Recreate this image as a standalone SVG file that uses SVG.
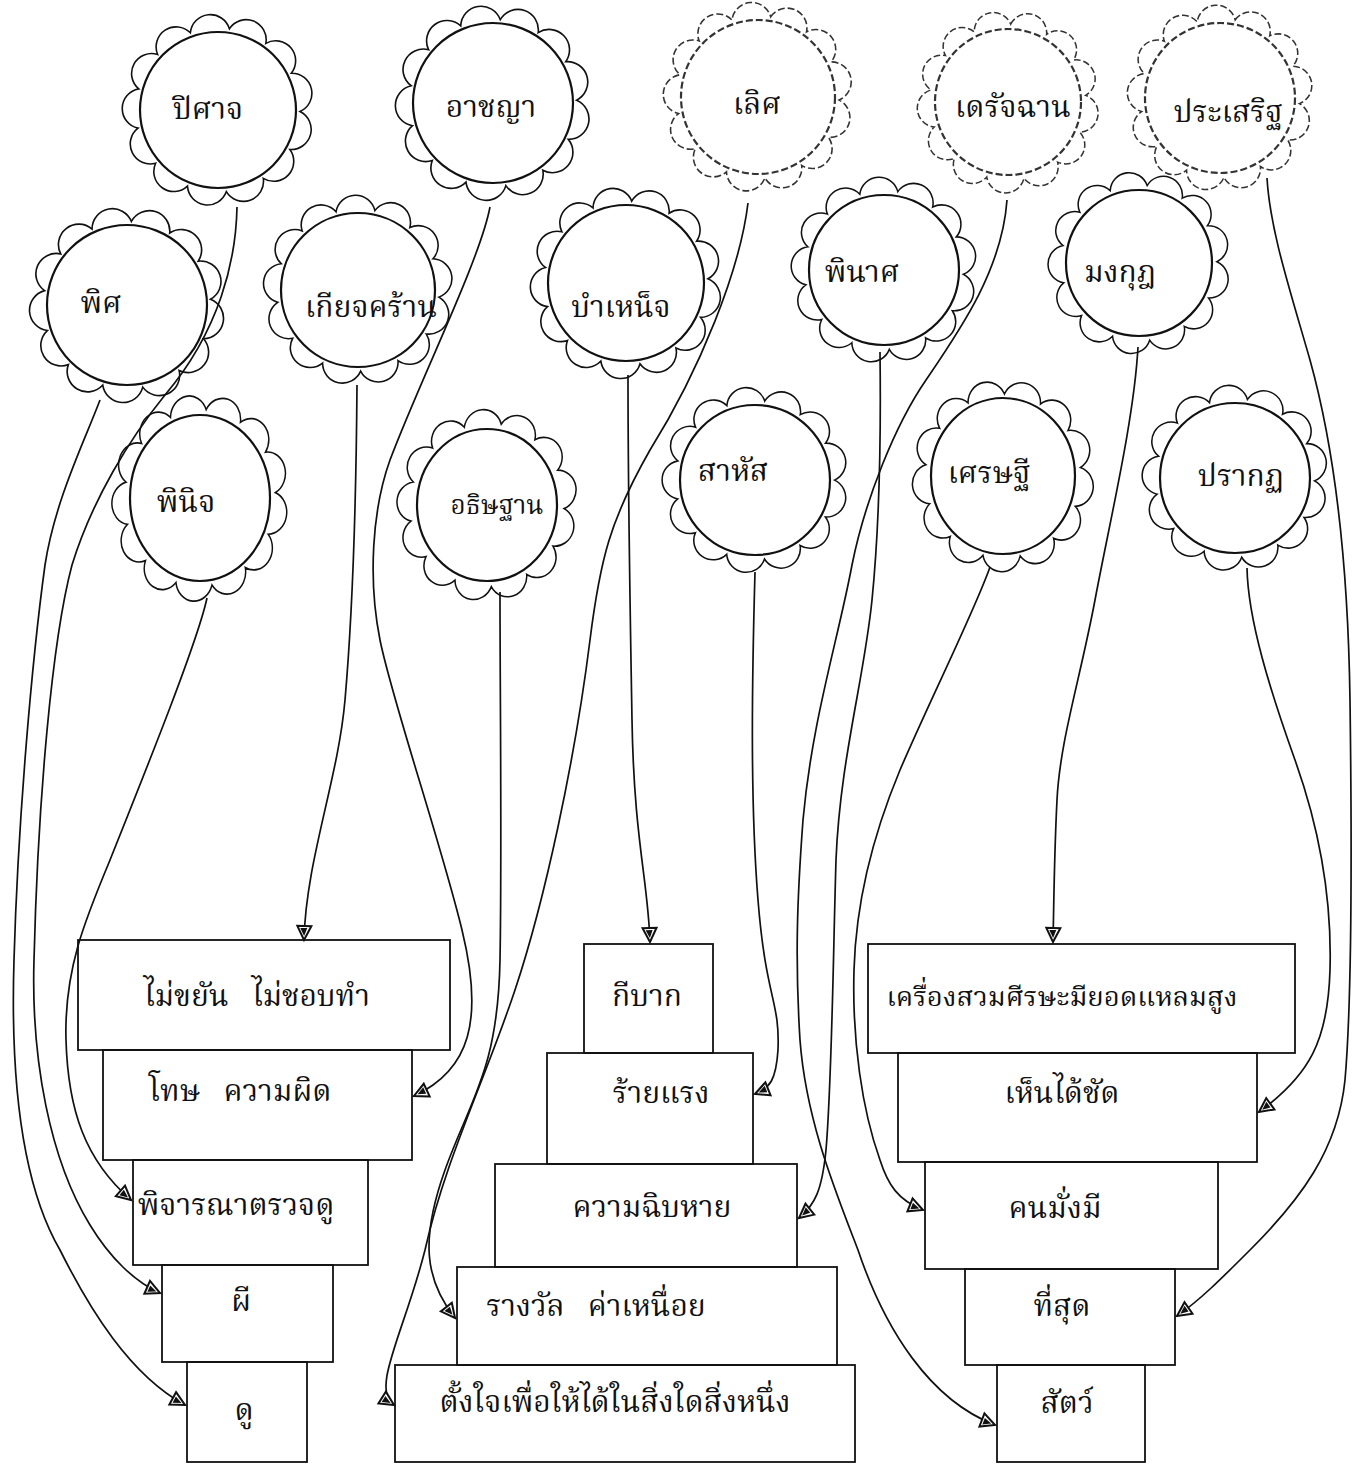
<svg xmlns="http://www.w3.org/2000/svg" xmlns:xlink="http://www.w3.org/1999/xlink" width="1361" height="1467" viewBox="0 0 1361 1467">
<style>
.bg{fill:#fff}
.ring{fill:none;stroke:#111;stroke-width:1.6}
.inner{fill:none;stroke:#111;stroke-width:2.2}
.faint .ring,.faint .inner{stroke:#333;stroke-dasharray:7 3}
.lbl{font-family:"Noto Serif Thai","Noto Sans Thai","Norasi","Loma","Garuda","Tlwg Typo","DejaVu Sans",sans-serif;font-size:30px;fill:#111;text-anchor:middle}
.box{fill:none;stroke:#111;stroke-width:1.8}
.conn path{fill:none;stroke:#111;stroke-width:1.7;marker-end:url(#ah)}
</style>
<defs>
<path id="ring" d="M0,-82 A20,20 0 0 1 38.11,-72.61 A20,20 0 0 1 67.49,-46.58 A20,20 0 0 1 81.4,-9.88 A20,20 0 0 1 76.67,29.08 A20,20 0 0 1 54.37,61.38 A20,20 0 0 1 19.62,79.61 A20,20 0 0 1 -19.62,79.61 A20,20 0 0 1 -54.37,61.38 A20,20 0 0 1 -76.67,29.08 A20,20 0 0 1 -81.4,-9.88 A20,20 0 0 1 -67.49,-46.58 A20,20 0 0 1 -38.11,-72.61 A20,20 0 0 1 0,-82 Z"/>
<marker id="ah" markerUnits="userSpaceOnUse" markerWidth="20" markerHeight="20" viewBox="0 0 20 20" refX="17" refY="10" orient="auto">
<path d="M3,3 L17,10 L3,17 Z" fill="#fff" stroke="#111" stroke-width="2"/>
<path d="M5,7 L13,10 L5,14 Z" fill="#111"/>
</marker>
</defs>
<rect class="bg" x="0" y="0" width="1361" height="1467"/>

<!-- flowers -->
<g id="n-pisat"><use href="#ring" class="ring" transform="translate(218,110) rotate(8)"/><circle class="inner" cx="218" cy="110" r="78"/><text class="lbl" x="208" y="119">ปิศาจ</text></g>
<g id="n-phit"><use href="#ring" class="ring" transform="translate(127,305) rotate(3) scale(1.02)"/><circle class="inner" cx="127" cy="305" r="80"/><text class="lbl" x="101" y="313">พิศ</text></g>
<g id="n-kiatkhran"><use href="#ring" class="ring" transform="translate(358,290) rotate(12) scale(0.99)"/><circle class="inner" cx="358" cy="290" r="77"/><text class="lbl" x="371" y="317">เกียจคร้าน</text></g>
<g id="n-atchaya"><use href="#ring" class="ring" transform="translate(493,103) rotate(5) scale(1.02)"/><circle class="inner" cx="493" cy="103" r="80"/><text class="lbl" x="491" y="117">อาชญา</text></g>
<g id="n-loet" class="faint"><use href="#ring" class="ring" transform="translate(758,97) rotate(9) scale(0.99)"/><circle class="inner" cx="758" cy="97" r="77"/><text class="lbl" x="757" y="114">เลิศ</text></g>
<g id="n-bamnet"><use href="#ring" class="ring" transform="translate(626,283) rotate(4)"/><circle class="inner" cx="626" cy="283" r="78"/><text class="lbl" x="621" y="317">บำเหน็จ</text></g>
<g id="n-phinat"><use href="#ring" class="ring" transform="translate(884,270) rotate(10) scale(0.97)"/><circle class="inner" cx="884" cy="270" r="75"/><text class="lbl" x="862" y="282">พินาศ</text></g>
<g id="n-deratchan" class="faint"><use href="#ring" class="ring" transform="translate(1008,102) rotate(2) scale(0.95)"/><circle class="inner" cx="1008" cy="102" r="73"/><text class="lbl" x="1013" y="117">เดรัจฉาน</text></g>
<g id="n-prasoet" class="faint"><use href="#ring" class="ring" transform="translate(1220,98) rotate(11) scale(0.97)"/><circle class="inner" cx="1220" cy="98" r="75"/><text class="lbl" x="1228" y="122">ประเสริฐ</text></g>
<g id="n-mongkut"><use href="#ring" class="ring" transform="translate(1139,263) rotate(6) scale(0.95)"/><circle class="inner" cx="1139" cy="263" r="73"/><text class="lbl" x="1120" y="282">มงกุฎ</text></g>
<g id="n-phinit"><use href="#ring" class="ring" transform="translate(200,498) rotate(4) scale(0.92,1.08)"/><ellipse class="inner" cx="200" cy="498" rx="70" ry="83"/><text class="lbl" x="186" y="512">พินิจ</text></g>
<g id="n-athitthan"><use href="#ring" class="ring" transform="translate(487,505) rotate(10) scale(0.94,1.0)"/><ellipse class="inner" cx="487" cy="505" rx="70" ry="76"/><text class="lbl" x="497" y="514" style="font-size:26px">อธิษฐาน</text></g>
<g id="n-sahat"><use href="#ring" class="ring" transform="translate(755,480) rotate(7) scale(0.97)"/><circle class="inner" cx="755" cy="480" r="75"/><text class="lbl" x="733" y="481">สาหัส</text></g>
<g id="n-setthi"><use href="#ring" class="ring" transform="translate(1003,476) rotate(1) scale(0.95,1.0)"/><ellipse class="inner" cx="1003" cy="476" rx="72" ry="78"/><text class="lbl" x="989" y="483">เศรษฐี</text></g>
<g id="n-prakot"><use href="#ring" class="ring" transform="translate(1235,478) rotate(9) scale(0.97)"/><circle class="inner" cx="1235" cy="478" r="75"/><text class="lbl" x="1241" y="486">ปรากฏ</text></g>

<!-- boxes: left column -->
<g id="b-maikhayan"><rect class="box" x="78" y="940" width="372" height="110"/><text class="lbl" x="257" y="1006" xml:space="preserve">ไม่ขยัน   ไม่ชอบทำ</text></g>
<g id="b-thot"><rect class="box" x="103" y="1050" width="309" height="110"/><text class="lbl" x="240" y="1101" xml:space="preserve">โทษ   ความผิด</text></g>
<g id="b-phichanra"><rect class="box" x="133" y="1160" width="235" height="105"/><text class="lbl" x="236" y="1215">พิจารณาตรวจดู</text></g>
<g id="b-phi"><rect class="box" x="162" y="1265" width="171" height="97"/><text class="lbl" x="241" y="1311">ผี</text></g>
<g id="b-du"><rect class="box" x="187" y="1362" width="120" height="100"/><text class="lbl" x="244" y="1420">ดู</text></g>

<!-- boxes: middle column -->
<g id="b-kibak"><rect class="box" x="584" y="944" width="129" height="109"/><text class="lbl" x="647" y="1006">กีบาก</text></g>
<g id="b-raiyraeng"><rect class="box" x="547" y="1053" width="206" height="111"/><text class="lbl" x="661" y="1103">ร้ายแรง</text></g>
<g id="b-khwamchiphai"><rect class="box" x="495" y="1164" width="302" height="103"/><text class="lbl" x="652" y="1217">ความฉิบหาย</text></g>
<g id="b-rangwan"><rect class="box" x="457" y="1267" width="380" height="98"/><text class="lbl" x="596" y="1316" xml:space="preserve">รางวัล   ค่าเหนื่อย</text></g>
<g id="b-tangjai"><rect class="box" x="395" y="1365" width="460" height="97"/><text class="lbl" x="615" y="1412">ตั้งใจเพื่อให้ได้ในสิ่งใดสิ่งหนึ่ง</text></g>

<!-- boxes: right column -->
<g id="b-khrueangsuam"><rect class="box" x="868" y="944" width="427" height="109"/><text class="lbl" x="1062" y="1006" style="font-size:27.5px">เครื่องสวมศีรษะมียอดแหลมสูง</text></g>
<g id="b-henraichat"><rect class="box" x="898" y="1053" width="359" height="109"/><text class="lbl" x="1062" y="1103">เห็นได้ชัด</text></g>
<g id="b-khonmangmi"><rect class="box" x="925" y="1162" width="293" height="107"/><text class="lbl" x="1055" y="1218">คนมั่งมี</text></g>
<g id="b-thisut"><rect class="box" x="965" y="1269" width="210" height="96"/><text class="lbl" x="1062" y="1316">ที่สุด</text></g>
<g id="b-sat"><rect class="box" x="997" y="1365" width="148" height="97"/><text class="lbl" x="1067" y="1413">สัตว์</text></g>

<!-- connectors -->
<g id="connectors" class="conn">
<path d="M237,207 C236,260 220,330 165,395 C130,438 92,500 72,565 C52,640 38,800 34,960 C31,1060 50,1160 90,1225 C110,1258 135,1282 160,1293"/>
<path d="M100,400 C85,440 55,500 45,565 C32,660 18,820 14,960 C10,1090 25,1190 60,1250 C90,1310 130,1375 185,1405"/>
<path d="M207,598 C198,640 150,760 110,860 C85,920 64,970 66,1040 C68,1110 85,1160 131,1200"/>
<path d="M357,385 C356,520 352,620 345,700 C338,780 306,860 304,940"/>
<path d="M490,207 C480,260 420,380 390,460 C372,510 368,580 380,640 C392,700 440,840 462,930 C484,1020 470,1070 414,1096"/>
<path d="M500,592 C500,700 502,850 500,960 C498,1070 470,1100 445,1170 C420,1240 425,1280 455,1318"/>
<path d="M748,203 C740,270 700,370 650,450 C610,520 600,560 590,640 C575,760 545,900 515,990 C485,1080 445,1160 425,1250 C405,1330 370,1390 394,1405"/>
<path d="M628,375 C628,500 630,600 632,720 C634,840 648,880 650,942"/>
<path d="M755,572 C752,680 750,800 758,900 C766,1000 780,1000 778,1050 C776,1080 770,1088 755,1094"/>
<path d="M880,352 C881,430 880,520 872,600 C864,680 840,760 836,860 C833,960 832,1080 826,1150 C822,1190 815,1205 799,1218"/>
<path d="M1007,200 C1002,270 960,330 926,380 C895,425 865,500 852,565 C838,640 812,720 803,820 C797,900 795,960 800,1040 C806,1120 835,1190 858,1250 C885,1330 930,1400 995,1425"/>
<path d="M990,567 C975,610 930,700 900,770 C875,830 856,900 854,970 C852,1040 862,1110 880,1160 C888,1185 898,1200 923,1210"/>
<path d="M1138,347 C1134,420 1110,520 1095,600 C1080,680 1060,740 1057,800 C1054,860 1054,900 1053,942"/>
<path d="M1247,568 C1248,620 1270,690 1295,760 C1320,830 1332,900 1330,970 C1328,1040 1310,1075 1259,1112"/>
<path d="M1267,178 C1270,230 1290,290 1310,360 C1335,450 1348,560 1350,700 C1352,850 1352,1000 1345,1080 C1338,1150 1300,1200 1250,1250 C1220,1280 1200,1300 1177,1316"/>
</g>
</svg>
